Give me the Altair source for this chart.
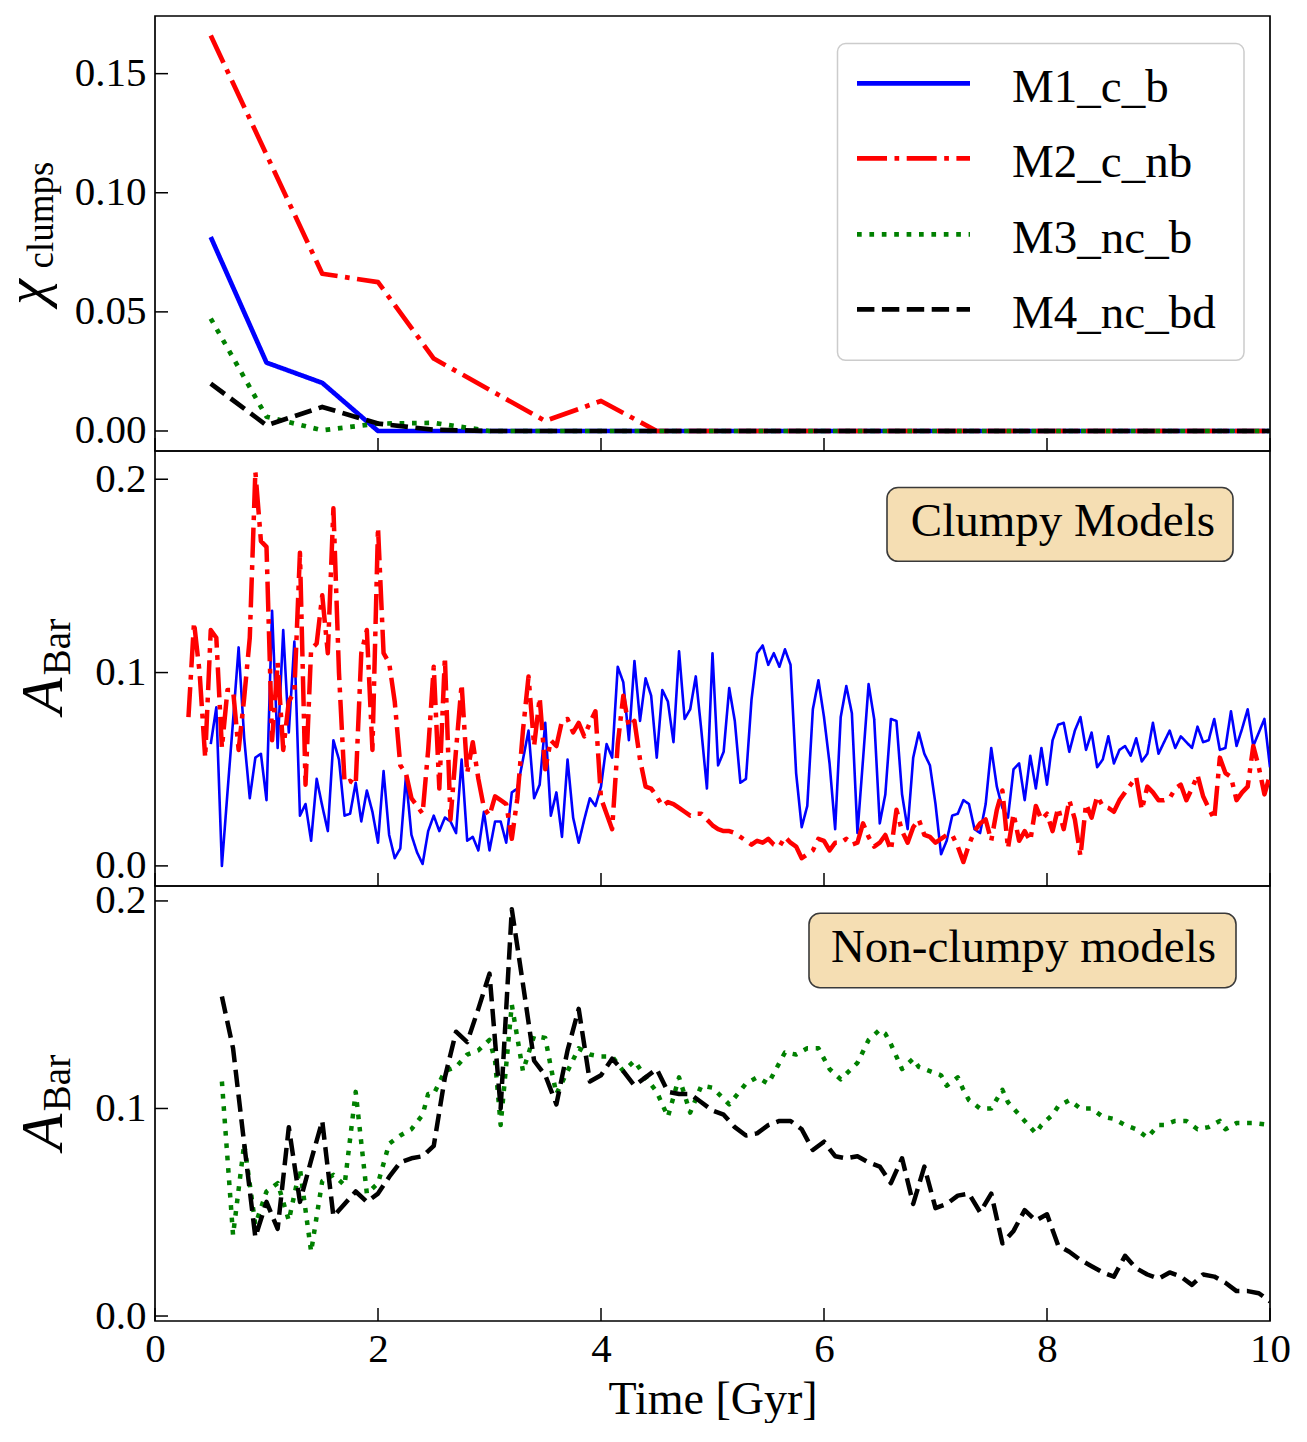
import altair as alt
import pandas as pd

FONT = "Liberation Serif"
MODELS = ["M1_c_b", "M2_c_nb", "M3_nc_b", "M4_nc_bd"]
COLORS = ["#0000ff", "#ff0000", "#008000", "#000000"]
DASHES = [[1, 0], [30, 7.5, 4.7, 7.5], [4.7, 7.7], [17.4, 7.5]]

XTICKS = [0, 2, 4, 6, 8, 10]
YTICKS_1 = [0.0, 0.05, 0.10, 0.15]
YTICKS_23 = [0.0, 0.1, 0.2]

# ---------------- panel 1 : chi_clumps ----------------
T_CLUMPS = [0.5, 1.0, 1.5, 2.0, 2.5, 3.0, 3.5, 4.0, 4.5, 5.0,
            5.5, 6.0, 6.5, 7.0, 7.5, 8.0, 8.5, 9.0, 9.5, 10.0]
CHI_M1 = [0.0814, 0.0287, 0.0202, 0.0, 0.0, 0.0, 0.0, 0.0, 0.0, 0.0,
          0.0, 0.0, 0.0, 0.0, 0.0, 0.0, 0.0, 0.0, 0.0, 0.0]
CHI_M2 = [0.166, 0.116, 0.066, 0.0625, 0.0304, 0.0173, 0.0042, 0.0126, 0.0, 0.0,
          0.0, 0.0, 0.0, 0.0, 0.0, 0.0, 0.0, 0.0, 0.0, 0.0]
CHI_M3 = [0.0472, 0.006, 0.0003, 0.0031, 0.0034, 0.0, 0.0, 0.0, 0.0, 0.0,
          0.0, 0.0, 0.0, 0.0, 0.0, 0.0, 0.0, 0.0, 0.0, 0.0]
CHI_M4 = [0.0199, 0.0024, 0.0101, 0.0031, 0.0005, 0.0, 0.0, 0.0, 0.0, 0.0,
          0.0, 0.0, 0.0, 0.0, 0.0, 0.0, 0.0, 0.0, 0.0, 0.0]

# ---------------- panel 2 : A_Bar clumpy (0.05 Gyr sampling) ----------------
T0_M1, T0_M2, DT = 0.5, 0.3, 0.05
ABAR_M1 = [
    0.063, 0.082, 0.000, 0.038, 0.075, 0.113, 0.066, 0.035, 0.056, 0.058,
    0.034, 0.132, 0.061, 0.122, 0.069, 0.116, 0.026, 0.032, 0.013, 0.045,
    0.031, 0.018, 0.065, 0.055, 0.026, 0.027, 0.043, 0.023, 0.039, 0.028,
    0.012, 0.049, 0.016, 0.004, 0.009, 0.046, 0.016, 0.007, 0.001, 0.018,
    0.026, 0.018, 0.025, 0.023, 0.017, 0.055, 0.013, 0.015, 0.008, 0.028,
    0.008, 0.023, 0.023, 0.012, 0.038, 0.040, 0.055, 0.070, 0.035, 0.042,
    0.074, 0.026, 0.038, 0.015, 0.055, 0.025, 0.012, 0.024, 0.035, 0.031,
    0.041, 0.063, 0.056, 0.103, 0.095, 0.065, 0.106, 0.075, 0.097, 0.088,
    0.056, 0.091, 0.085, 0.064, 0.111, 0.076, 0.081, 0.098, 0.070, 0.040,
    0.110, 0.052, 0.059, 0.092, 0.075, 0.043, 0.045, 0.086, 0.110, 0.114,
    0.104, 0.110, 0.103, 0.112, 0.104, 0.048, 0.020, 0.031, 0.081, 0.096,
    0.077, 0.053, 0.019, 0.077, 0.093, 0.079, 0.017, 0.055, 0.094, 0.076,
    0.022, 0.037, 0.076, 0.075, 0.037, 0.019, 0.056, 0.069, 0.058, 0.052,
    0.032, 0.006, 0.013, 0.026, 0.027, 0.034, 0.032, 0.019, 0.017, 0.032,
    0.061, 0.041, 0.030, 0.025, 0.050, 0.053, 0.034, 0.057, 0.040, 0.061,
    0.042, 0.065, 0.073, 0.074, 0.059, 0.070, 0.077, 0.060, 0.069, 0.051,
    0.055, 0.067, 0.053, 0.060, 0.062, 0.057, 0.066, 0.054, 0.058, 0.074,
    0.058, 0.064, 0.070, 0.061, 0.067, 0.064, 0.061, 0.072, 0.064, 0.065,
    0.076, 0.060, 0.061, 0.080, 0.062, 0.071, 0.081, 0.062, 0.069, 0.076,
    0.051,
]
ABAR_M2 = [
    0.077, 0.126, 0.100, 0.056, 0.122, 0.118, 0.061, 0.091, 0.091, 0.060,
    0.087, 0.118, 0.204, 0.168, 0.165, 0.065, 0.105, 0.060, 0.085, 0.090,
    0.162, 0.042, 0.112, 0.115, 0.140, 0.110, 0.185, 0.100, 0.043, 0.044,
    0.042, 0.110, 0.122, 0.060, 0.175, 0.110, 0.105, 0.085, 0.052, 0.048,
    0.035, 0.031, 0.027, 0.060, 0.103, 0.040, 0.108, 0.024, 0.060, 0.094,
    0.048, 0.064, 0.045, 0.030, 0.026, 0.036, 0.034, 0.032, 0.014, 0.035,
    0.070, 0.098, 0.062, 0.087, 0.050, 0.065, 0.062, 0.075, 0.076, 0.069,
    0.074, 0.067, 0.074, 0.080, 0.035, 0.027, 0.019, 0.063, 0.088, 0.072,
    0.075, 0.055, 0.041, 0.040, 0.036, 0.031, 0.033, 0.032, 0.030, 0.028,
    0.026, 0.027, 0.027, 0.024, 0.021, 0.019, 0.018, 0.018, 0.017, 0.015,
    0.013, 0.011, 0.013, 0.012, 0.014, 0.011, 0.010, 0.015, 0.012, 0.010,
    0.004, 0.006, 0.008, 0.014, 0.013, 0.008, 0.012, 0.012, 0.014, 0.011,
    0.012, 0.022, 0.015, 0.010, 0.012, 0.016, 0.008, 0.029, 0.018, 0.012,
    0.020, 0.024, 0.016, 0.015, 0.012, 0.014, 0.016, 0.016, 0.010, 0.002,
    0.011, 0.018, 0.022, 0.024, 0.013, 0.029, 0.039, 0.009, 0.027, 0.013,
    0.018, 0.013, 0.031, 0.024, 0.027, 0.018, 0.030, 0.019, 0.034, 0.024,
    0.005, 0.032, 0.025, 0.036, 0.031, 0.030, 0.028, 0.034, 0.038, 0.042,
    0.046, 0.029, 0.041, 0.038, 0.034, 0.034, 0.035, 0.040, 0.042, 0.034,
    0.040, 0.047, 0.036, 0.030, 0.024, 0.056, 0.048, 0.046, 0.034, 0.038,
    0.041, 0.062, 0.051, 0.037, 0.047,
]
T_M1 = [round(T0_M1 + DT * i, 2) for i in range(len(ABAR_M1))]
T_M2 = [round(T0_M2 + DT * i, 2) for i in range(len(ABAR_M2))]

# ---------------- panel 3 : A_Bar non-clumpy ----------------
T_M3 = [0.6, 0.7, 0.8, 0.9, 1.0, 1.1, 1.2, 1.3, 1.4, 1.5, 1.6, 1.7, 1.8, 1.9,
        2.0, 2.1, 2.2, 2.3, 2.4, 2.45, 2.5, 2.6, 2.7, 2.8, 2.9, 3.0, 3.05, 3.1,
        3.2, 3.3, 3.4, 3.5, 3.55, 3.6, 3.7, 3.8, 3.9, 4.0, 4.1, 4.2, 4.3, 4.4,
        4.5, 4.6, 4.7, 4.8, 4.9, 5.0, 5.15, 5.3, 5.4, 5.5, 5.65, 5.75, 5.85,
        5.95, 6.05, 6.15, 6.3, 6.4, 6.5, 6.55, 6.6, 6.7, 6.8, 6.85, 6.95, 7.05,
        7.1, 7.2, 7.25, 7.3, 7.4, 7.5, 7.6, 7.65, 7.75, 7.8, 7.9, 7.95, 8.05,
        8.1, 8.2, 8.3, 8.4, 8.5, 8.6, 8.7, 8.8, 8.9, 9.0, 9.05, 9.15, 9.25,
        9.35, 9.45, 9.55, 9.6, 9.7, 9.85, 10.0]
ABAR_M3 = [0.113, 0.039, 0.083, 0.044, 0.060, 0.064, 0.046, 0.071, 0.031, 0.065,
           0.068, 0.063, 0.108, 0.059, 0.064, 0.083, 0.087, 0.090, 0.097, 0.107,
           0.107, 0.118, 0.120, 0.126, 0.128, 0.133, 0.123, 0.092, 0.150, 0.118,
           0.135, 0.134, 0.120, 0.107, 0.118, 0.129, 0.126, 0.125, 0.125, 0.118,
           0.123, 0.115, 0.108, 0.096, 0.115, 0.098, 0.111, 0.110, 0.102, 0.112,
           0.115, 0.112, 0.127, 0.126, 0.129, 0.129, 0.119, 0.114, 0.122, 0.133,
           0.138, 0.136, 0.131, 0.119, 0.124, 0.120, 0.118, 0.116, 0.111, 0.115,
           0.109, 0.104, 0.100, 0.100, 0.109, 0.103, 0.097, 0.094, 0.088, 0.092,
           0.097, 0.101, 0.104, 0.100, 0.100, 0.096, 0.095, 0.092, 0.090, 0.086,
           0.092, 0.092, 0.094, 0.094, 0.090, 0.091, 0.094, 0.090, 0.093, 0.093,
           0.092]
T_M4 = [0.6, 0.7, 0.8, 0.9, 1.0, 1.1, 1.2, 1.3, 1.4, 1.5, 1.6, 1.7, 1.8, 1.9,
        2.0, 2.1, 2.2, 2.3, 2.4, 2.5, 2.6, 2.7, 2.8, 2.9, 3.0, 3.1, 3.2, 3.3,
        3.4, 3.5, 3.6, 3.7, 3.8, 3.9, 4.0, 4.1, 4.2, 4.3, 4.4, 4.5, 4.6, 4.7,
        4.8, 4.9, 5.0, 5.1, 5.2, 5.3, 5.4, 5.5, 5.6, 5.7, 5.8, 5.9, 6.0, 6.1,
        6.2, 6.3, 6.4, 6.5, 6.6, 6.7, 6.8, 6.9, 7.0, 7.1, 7.2, 7.3, 7.4, 7.5,
        7.6, 7.7, 7.8, 7.9, 8.0, 8.1, 8.2, 8.3, 8.4, 8.5, 8.6, 8.7, 8.8, 8.9,
        9.0, 9.1, 9.2, 9.3, 9.4, 9.5, 9.6, 9.7, 9.8, 9.9, 10.0]
ABAR_M4 = [0.154, 0.129, 0.083, 0.038, 0.055, 0.042, 0.091, 0.055, 0.075, 0.094,
           0.048, 0.054, 0.060, 0.055, 0.059, 0.067, 0.074, 0.076, 0.077, 0.082,
           0.115, 0.137, 0.132, 0.148, 0.165, 0.100, 0.196, 0.160, 0.123, 0.116,
           0.102, 0.128, 0.148, 0.113, 0.116, 0.124, 0.118, 0.111, 0.115, 0.119,
           0.108, 0.107, 0.107, 0.103, 0.099, 0.097, 0.091, 0.087, 0.088, 0.092,
           0.094, 0.094, 0.090, 0.080, 0.084, 0.077, 0.076, 0.077, 0.074, 0.072,
           0.064, 0.076, 0.054, 0.072, 0.052, 0.054, 0.058, 0.059, 0.050, 0.059,
           0.035, 0.041, 0.051, 0.046, 0.049, 0.034, 0.031, 0.027, 0.024, 0.021,
           0.019, 0.029, 0.023, 0.020, 0.018, 0.021, 0.019, 0.015, 0.020, 0.019,
           0.016, 0.012, 0.012, 0.011, 0.007]

assert len(T_M3) == len(ABAR_M3) and len(T_M4) == len(ABAR_M4)

# ---------------- layout ----------------
W, H = 1115, 435
TICK = 13
Y_DOM = {1: [-0.0084, 0.1742], 2: [-0.0104, 0.2146], 3: [-0.0024, 0.2072]}
LEG_BOX = (682.5, 1089, 27.6, 344.3)
LEG_ROW_Y = [67.3, 142.3, 218.3, 293.3]

CS = alt.Scale(domain=MODELS, range=COLORS)
DS = alt.Scale(domain=MODELS, range=DASHES)


def frame(ts, vs, model):
    return pd.DataFrame({"t": ts, "v": vs, "model": model})


def one(label):
    return pd.DataFrame({"s": [label]})


def legend_layers():
    x1, x2, y1, y2 = LEG_BOX
    out = [alt.Chart(one("legend")).mark_rect(
        fill="white", fillOpacity=0.8, stroke="#cccccc", strokeWidth=1.5, cornerRadius=8).encode(
        x=alt.value(x1), x2=alt.value(x2), y=alt.value(y1), y2=alt.value(y2))]
    for m, yy in zip(MODELS, LEG_ROW_Y):
        out.append(alt.Chart(pd.DataFrame({"model": [m]})).mark_rule(strokeWidth=4.7).encode(
            x=alt.value(702), x2=alt.value(815), y=alt.value(yy),
            color=alt.Color("model:N", scale=CS, legend=None),
            strokeDash=alt.StrokeDash("model:N", scale=DS, legend=None)))
        out.append(alt.Chart(pd.DataFrame({"model": [m]})).mark_text(
            align="left", baseline="alphabetic", font=FONT, fontSize=47, color="black").encode(
            x=alt.value(857), y=alt.value(yy + 18.7), text="model:N"))
    return out


def panel(series, ydom, yticks, yfmt, titles, show_x, legend=False, box=None):
    xs = alt.Scale(domain=[0, 10], nice=False, zero=False)
    ys = alt.Scale(domain=ydom, nice=False, zero=False)
    if show_x:
        xaxis = alt.Axis(values=XTICKS, format="d", ticks=False, tickSize=0, domain=False,
                         grid=False, labelFlush=False, labelPadding=8, labelFont=FONT,
                         labelFontSize=41, labelColor="black", title="Time [Gyr]",
                         titleFont=FONT, titleFontSize=46, titleFontWeight="normal",
                         titleColor="black", titlePadding=8)
    else:
        xaxis = None
    yaxis = alt.Axis(values=yticks, format=yfmt, ticks=False, tickSize=0, domain=False,
                     grid=False, labelPadding=9, labelFont=FONT, labelFontSize=41,
                     labelColor="black", title=None)
    layers = []
    for df, sw in series:
        layers.append(
            alt.Chart(df).mark_line(strokeWidth=sw, strokeJoin="round", clip=True).encode(
                x=alt.X("t:Q", scale=xs, axis=xaxis),
                y=alt.Y("v:Q", scale=ys, axis=yaxis),
                color=alt.Color("model:N", scale=CS, legend=None),
                strokeDash=alt.StrokeDash("model:N", scale=DS, legend=None),
            )
        )
    layers.append(
        alt.Chart(pd.DataFrame({"tick": XTICKS})).mark_rule(color="black", strokeWidth=1.5).encode(
            x=alt.X("tick:Q", scale=xs, axis=xaxis), y=alt.value(H), y2=alt.value(H - TICK))
    )
    layers.append(
        alt.Chart(pd.DataFrame({"tick": yticks})).mark_rule(color="black", strokeWidth=1.5).encode(
            y=alt.Y("tick:Q", scale=ys, axis=yaxis), x=alt.value(0), x2=alt.value(TICK))
    )
    for txt, x, y, size, style in titles:
        layers.append(
            alt.Chart(one(txt)).mark_text(
                angle=270, align="center", baseline="alphabetic", font=FONT, fontSize=size,
                fontStyle=style, color="black").encode(
                x=alt.value(x), y=alt.value(y), text="s:N")
        )
    if box is not None:
        label, x1, x2, y1, y2, tx, ty = box
        layers.append(
            alt.Chart(one(label)).mark_rect(
                fill="#f5deb3", stroke="#3a3a3a", strokeWidth=1.6, cornerRadius=11).encode(
                x=alt.value(x1), x2=alt.value(x2), y=alt.value(y1), y2=alt.value(y2))
        )
        layers.append(
            alt.Chart(one(label)).mark_text(
                align="right", baseline="alphabetic", font=FONT, fontSize=47, color="black").encode(
                x=alt.value(tx), y=alt.value(ty), text="s:N")
        )
    if legend:
        layers.extend(legend_layers())
    return alt.layer(*layers).properties(width=W, height=H)


p1 = panel(
    [(frame(T_CLUMPS, CHI_M1, MODELS[0]), 4.7),
     (frame(T_CLUMPS, CHI_M2, MODELS[1]), 4.7),
     (frame(T_CLUMPS, CHI_M3, MODELS[2]), 4.7),
     (frame(T_CLUMPS, CHI_M4, MODELS[3]), 4.7)],
    Y_DOM[1], YTICKS_1, ".2f",
    [("χ", -110, 276, 58, "italic"), ("clumps", -102, 199, 37, "normal")],
    False, legend=True,
)
p2 = panel(
    [(frame(T_M1, ABAR_M1, MODELS[0]), 2.6),
     (frame(T_M2, ABAR_M2, MODELS[1]), 4.5)],
    Y_DOM[2], YTICKS_23, ".1f",
    [("A", -93, 245, 60, "italic"), ("Bar", -85, 196, 39, "normal")],
    False,
    box=("Clumpy Models", 732, 1078, 36.5, 110.3, 1060, 85.3),
)
p3 = panel(
    [(frame(T_M3, ABAR_M3, MODELS[2]), 4.5),
     (frame(T_M4, ABAR_M4, MODELS[3]), 4.5)],
    Y_DOM[3], YTICKS_23, ".1f",
    [("A", -93, 246, 60, "italic"), ("Bar", -85, 197, 39, "normal")],
    True,
    box=("Non-clumpy models", 654, 1081, 27.3, 101.7, 1061, 76),
)

chart = (
    alt.vconcat(p1, p2, p3, spacing=0, bounds="flush")
    .configure(padding={"left": -10, "top": 7, "right": 0, "bottom": 0}, background="white")
    .configure_view(stroke="black", strokeWidth=1.7)
)

chart.save("out.html", embed_options={"renderer": "svg", "actions": False})
